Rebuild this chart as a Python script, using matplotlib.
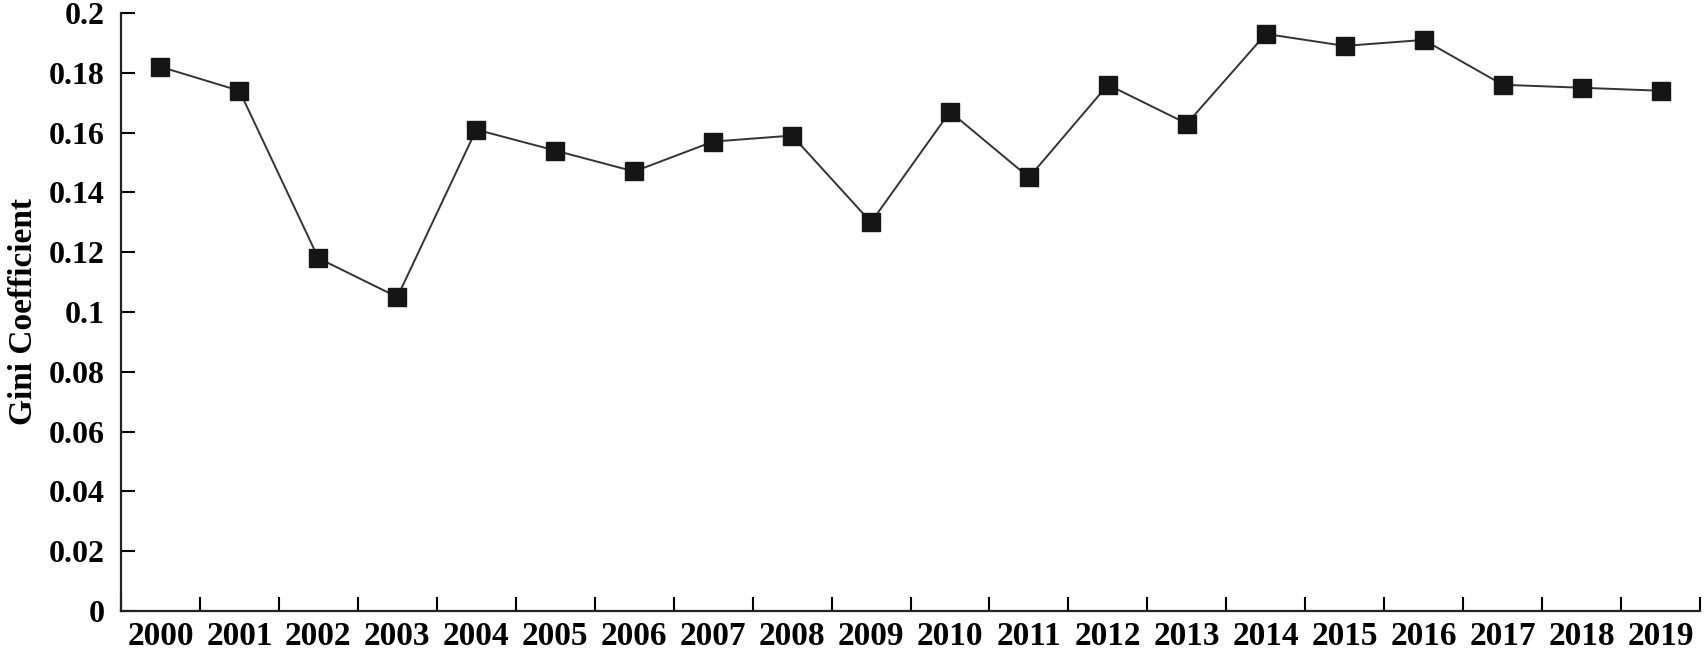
import numpy as np
import matplotlib
matplotlib.use("Agg")
from matplotlib import pyplot as plt

# values
years = [str(y) for y in range(2000, 2020)]
gini = [0.182, 0.174, 0.118, 0.105, 0.161, 0.154, 0.147, 0.157, 0.159, 0.130,
        0.167, 0.145, 0.176, 0.163, 0.193, 0.189, 0.191, 0.176, 0.175, 0.174]

plt.rcParams['font.family'] = ['Liberation Serif', 'DejaVu Serif']
plt.rcParams['font.weight'] = 'bold'

fig = plt.figure(figsize=(17.04, 6.67), dpi=100)
ax = fig.add_axes([0.071, 0.084, 0.9267, 0.8965])

x = np.arange(len(years))
ax.plot(x, gini, color='#333333', lw=1.4, marker='s', markersize=13.5,
        markerfacecolor='#151515', markeredgecolor='#151515')

ax.set_xlim(-0.5, len(years) - 0.5)
ax.set_ylim(0, 0.2)
ax.set_yticks(np.arange(0, 0.201, 0.02))
ax.set_yticklabels(['0', '0.02', '0.04', '0.06', '0.08', '0.1', '0.12',
                    '0.14', '0.16', '0.18', '0.2'])

# year labels centred on categories, tick marks at category boundaries
ax.set_xticks(x)
ax.set_xticklabels(years)
ax.set_xticks(np.arange(-0.5, len(years)), minor=True)
ax.tick_params(axis='x', which='major', length=0, pad=7, labelsize=24)
ax.tick_params(axis='x', which='minor', direction='in', length=10, width=1.5)
ax.tick_params(axis='y', direction='in', length=10, width=1.5, labelsize=23, pad=12)

for s in ['top', 'right']:
    ax.spines[s].set_visible(False)
for s in ['left', 'bottom']:
    ax.spines[s].set_linewidth(1.6)
    ax.spines[s].set_color('#222222')

ax.set_ylabel('Gini Coefficient', fontsize=24, fontweight='bold')
ax.yaxis.set_label_coords(-0.052, 0.5)

fig.savefig('out.png', dpi=100)
